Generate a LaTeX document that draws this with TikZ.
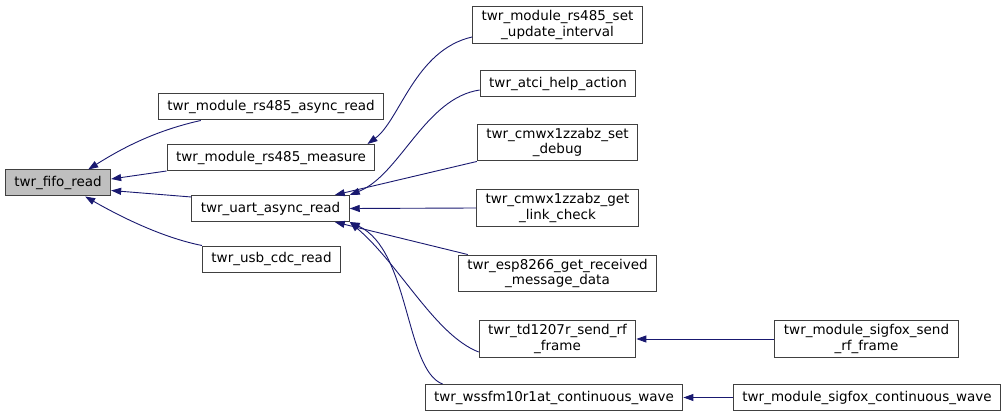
\documentclass[tikz,border=0pt]{standalone}
\usepackage{fontspec}
\setmainfont{DejaVu Sans}
\usetikzlibrary{arrows.meta}

\definecolor{edgeblue}{HTML}{191970}
\definecolor{boxgray}{HTML}{404040}

\begin{document}
\begin{tikzpicture}[x=1pt, y=-1pt,
    fn/.style={draw=boxgray, line width=1pt, fill=white, align=center,
      inner xsep=9pt, inner ysep=4pt, minimum height=26pt,
      font=\fontsize{13.5}{15.5}\selectfont},
    call/.style={edgeblue, line width=0.9pt,
      -{Triangle[length=10pt, width=7pt]}}]
  \useasboundingbox (0,0) rectangle (1005,417);
  % callee on the left, callers to the right
  \node[fn, fill={rgb,255:red,191;green,191;blue,191}] (fifo) at (58,183) {twr\_fifo\_read};
  \node[fn] (async) at (271,107) {twr\_module\_rs485\_async\_read};
  \node[fn] (measure) at (271,157.5) {twr\_module\_rs485\_measure};
  \node[fn] (uart) at (270.5,208.5) {twr\_uart\_async\_read};
  \node[fn] (usb) at (271.5,259) {twr\_usb\_cdc\_read};
  % second column
  \node[fn] (upd) at (557.5,25) {twr\_module\_rs485\_set\\\_update\_interval};
  \node[fn] (atci) at (558,84) {twr\_atci\_help\_action};
  \node[fn] (setdbg) at (557.5,142.5) {twr\_cmwx1zzabz\_set\\\_debug};
  \node[fn] (link) at (557.5,208) {twr\_cmwx1zzabz\_get\\\_link\_check};
  \node[fn] (esp) at (557.5,273.5) {twr\_esp8266\_get\_received\\\_message\_data};
  \node[fn] (td) at (557.5,339) {twr\_td1207r\_send\_rf\\\_frame};
  \node[fn] (wssfm) at (554,397.5) {twr\_wssfm10r1at\_continuous\_wave};
  % third column
  \node[fn] (sfsend) at (866.5,339) {twr\_module\_sigfox\_send\\\_rf\_frame};
  \node[fn] (sfwave) at (867,397.5) {twr\_module\_sigfox\_continuous\_wave};

  \draw[call] ([xshift=43pt]async.south west) .. controls +(-45,10) and +(35,-22) .. ([xshift=-23pt]fifo.north east);
  \draw[call] (measure.south west) -- ([yshift=4pt]fifo.east);
  \draw[call] ([yshift=-2pt]uart.north west) -- ([yshift=-7.5pt]fifo.east);
  \draw[call] (usb.north west) .. controls +(-40,-8) and +(35,20) .. ([xshift=-26pt]fifo.south east);

  \draw[call] ([yshift=7pt]upd.south west) .. controls (415,50) and (400,120) .. ([xshift=-8pt]measure.north east);
  \draw[call] ([yshift=-6pt]atci.west) .. controls (425,98) and (400,175) .. (uart.north east);
  \draw[call] (setdbg.south west) -- ([xshift=-15pt]uart.north east);
  \draw[call] (link.west) -- (uart.east);
  \draw[call] ([xshift=10pt]esp.north west) -- ([xshift=-15pt]uart.south east);
  \draw[call] ([yshift=-13pt]td.west) .. controls (435,335) and (400,265) .. (uart.south east);
  \draw[call] ([xshift=18pt]wssfm.north west) .. controls (405,370) and (410,250) .. (uart.south east);

  \draw[call] (sfsend.west) -- (td.east);
  \draw[call] (sfwave.west) -- (wssfm.east);
\end{tikzpicture}
\end{document}
